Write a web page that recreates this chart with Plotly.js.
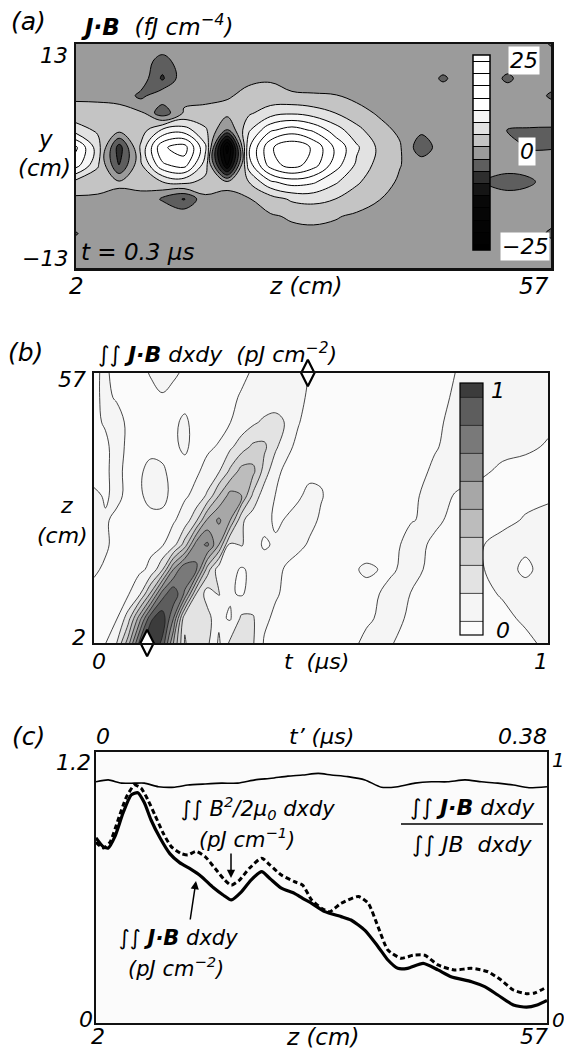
<!DOCTYPE html>
<html><head><meta charset="utf-8">
<script src="https://cdn.plot.ly/plotly-3.0.1.min.js"></script>
<style>html,body{margin:0;padding:0;background:#fff;}#chart{width:564px;height:1051px;}</style>
</head><body><div id="chart"></div>
<script>
// ================= DATA =================
// Panel (a): J·B at t = 0.3 us, grid z (cm) x y (cm), values fJ cm^-4
const aZ = [2,4.5,7,9.5,12,14.5,17,19.5,22,24.5,27,29.5,32,34.5,37,39.5,42,44.5,47,49.5,52,54.5,57];
const aY = [-13,-11,-9,-7,-5,-3,-1,1,3,5,7,9,11,13];
const aJB = [
 [0.4,0.2,0.5,0.3,0.1,0.4,0.6,0.3,0.2,0.5,0.4,0.2,0.3,0.5,0.4,0.1,0.3,0.5,0.2,0.4,0.3,0.5,0.6],
 [0.3,0.5,0.2,0.4,0.6,0.3,0.2,0.5,0.4,0.3,0.6,0.5,0.3,0.2,0.4,0.6,0.3,0.2,0.5,0.3,0.4,0.2,0.3],
 [-1.7,0.4,0.3,0.5,0.2,0.4,0.3,0.6,0.5,0.7,0.9,1.0,0.8,0.6,0.5,0.3,0.4,0.2,0.3,0.5,0.4,0.6,-2.2],
 [0.5,0.4,0.3,0.6,0.8,0.9,0.7,0.6,0.9,1.2,1.8,2.0,1.7,1.1,0.7,0.4,0.3,0.4,0.2,0.3,0.5,0.3,0.2],
 [1.0,1.1,1.0,0.6,-1.8,-4.8,0.8,1.2,1.3,3.0,5.0,5.5,4.5,2.8,1.6,0.8,0.4,0.3,0.5,0.3,0.2,0.4,0.3],
 [3.5,2.5,1.8,2.5,4.5,5.5,3.5,1.8,4.5,10,12,11,8,5,2.5,1.2,0.5,0.4,0.6,-1.8,-3.2,-2.2,0.3],
 [12,5,-5,4,13,15,6,-14,9,18,21,18,12,7,3.5,1.6,0.2,0.3,0.5,0.2,0.3,0.4,0.6],
 [14,6,-6,5,16,18,8,-18,10,19,22,19,13,8,4,1.8,-3.5,0.4,0.3,0.5,0.2,-1.8,-1.8],
 [6,4,2.5,3,8,9,5,-2,7,13,15,13,9,5.5,2.5,1.0,-0.8,0.3,0.5,0.4,-1.6,-1.8,-1.9],
 [2.5,2.5,2.2,2.0,-3.5,1.8,2.0,2.5,4,6,7,6,4.5,2.5,1.2,0.6,0.4,0.5,0.3,0.2,0.5,0.3,0.4],
 [1.0,0.9,0.8,-2.3,0.6,0.8,1.0,1.2,2.2,2.5,1.8,1.7,1.6,0.8,0.5,0.4,0.3,0.5,0.4,0.3,0.6,0.4,-2.0],
 [0.5,0.3,0.6,0.4,-5.0,0.5,0.3,0.4,1.0,1.2,0.6,0.4,0.5,0.3,0.4,0.6,0.5,-2.0,0.3,0.4,-2.2,0.5,0.3],
 [0.3,0.5,0.4,0.2,-2.8,0.3,0.5,0.4,0.3,0.6,0.4,0.3,0.5,0.4,0.2,0.3,0.5,0.4,0.3,0.5,0.4,0.3,0.5],
 [0.5,0.3,0.2,0.4,0.6,0.3,0.5,0.4,0.2,0.3,0.5,0.4,0.2,0.3,0.5,0.6,0.4,0.3,0.2,0.4,0.3,0.5,-1.8]
];
const aXTickVals = [2,57], aXTickText = ['2','57'];
const aYTickVals = [13,-13], aYTickText = ['13','\u221213'];
const aCbText = ['25','0','\u221225'];

// Panel (b): ∫∫ J·B dxdy (pJ cm^-2), grid t (us) x z (cm)
const bT = [0,0.025,0.05,0.075,0.1,0.125,0.15,0.175,0.2,0.225,0.25,0.275,0.3,0.325,0.35,0.375,0.4,0.425,0.45,0.475,0.5,0.525,0.55,0.6,0.65,0.7,0.75,0.8,0.85,0.9,0.95,1.0];
const bZ = [2,7,12,17,22,27,32,37,42,47,52,57];
const bJB = [
 [0.08,0.095,0.2,0.45,0.82,1.0,0.88,0.5,0.19,0.28,0.22,0.085,0.22,0.28,0.21,0.09,0.07,0.06,0.06,0.06,0.06,0.065,0.07,0.115,0.105,0.08,0.07,0.07,0.07,0.075,0.085,0.115],
 [0.09,0.08,0.095,0.25,0.55,0.88,0.97,0.7,0.22,0.27,0.24,0.12,0.09,0.22,0.21,0.12,0.08,0.07,0.06,0.06,0.07,0.08,0.07,0.09,0.12,0.09,0.07,0.07,0.075,0.085,0.11,0.12],
 [0.08,0.07,0.08,0.09,0.18,0.42,0.75,0.88,0.68,0.3,0.15,0.21,0.11,0.09,0.14,0.13,0.11,0.08,0.06,0.06,0.07,0.08,0.08,0.08,0.115,0.098,0.08,0.075,0.085,0.105,0.12,0.11],
 [0.11,0.09,0.08,0.07,0.08,0.12,0.28,0.6,0.8,0.72,0.35,0.14,0.13,0.09,0.12,0.14,0.12,0.09,0.06,0.06,0.07,0.08,0.08,0.11,0.09,0.12,0.08,0.08,0.095,0.12,0.09,0.12],
 [0.12,0.11,0.08,0.08,0.08,0.08,0.09,0.16,0.35,0.65,0.72,0.5,0.17,0.21,0.13,0.09,0.11,0.13,0.12,0.09,0.07,0.07,0.08,0.07,0.08,0.12,0.09,0.075,0.095,0.12,0.11,0.12],
 [0.11,0.105,0.09,0.08,0.08,0.08,0.08,0.09,0.14,0.28,0.52,0.62,0.5,0.22,0.14,0.12,0.09,0.105,0.13,0.12,0.09,0.07,0.07,0.07,0.075,0.098,0.11,0.085,0.08,0.085,0.105,0.12],
 [0.11,0.095,0.11,0.09,0.09,0.12,0.12,0.08,0.09,0.12,0.22,0.4,0.54,0.5,0.28,0.14,0.098,0.08,0.09,0.12,0.105,0.08,0.07,0.07,0.07,0.09,0.12,0.095,0.08,0.08,0.085,0.09],
 [0.08,0.095,0.11,0.09,0.09,0.12,0.11,0.08,0.08,0.09,0.12,0.19,0.32,0.44,0.43,0.26,0.12,0.08,0.08,0.08,0.09,0.08,0.07,0.07,0.07,0.075,0.11,0.12,0.11,0.09,0.08,0.085],
 [0.08,0.09,0.12,0.09,0.08,0.08,0.08,0.09,0.11,0.08,0.09,0.105,0.18,0.25,0.32,0.32,0.22,0.12,0.08,0.07,0.07,0.07,0.07,0.07,0.07,0.07,0.095,0.12,0.12,0.115,0.11,0.095],
 [0.09,0.105,0.12,0.09,0.08,0.08,0.08,0.09,0.11,0.08,0.08,0.08,0.098,0.14,0.18,0.22,0.23,0.19,0.105,0.07,0.07,0.07,0.07,0.07,0.07,0.07,0.09,0.115,0.12,0.12,0.115,0.11],
 [0.09,0.11,0.095,0.09,0.08,0.08,0.095,0.08,0.08,0.08,0.08,0.08,0.09,0.105,0.12,0.13,0.15,0.17,0.13,0.08,0.07,0.07,0.07,0.07,0.07,0.07,0.08,0.11,0.12,0.12,0.12,0.11],
 [0.09,0.11,0.08,0.08,0.08,0.105,0.12,0.11,0.09,0.08,0.08,0.08,0.08,0.09,0.105,0.12,0.13,0.14,0.15,0.095,0.07,0.07,0.07,0.07,0.07,0.07,0.08,0.102,0.12,0.12,0.12,0.11]
];
const bXTickVals = [0,1], bXTickText = ['0','1'];
const bYTickVals = [57,2], bYTickText = ['57','2'];
const bCbText = ['1','0'];
const diamondT = [0.117, 0.471];
const diamondZ = [2, 57];

// Panel (c): curves versus z (cm)
const cZ_JB = [2,2.9,3.5,4.3,5.3,6.3,7.1,7.9,8.7,9.8,11.0,12.2,13.6,14.8,16.3,17.5,18.5,19.7,20.9,22.2,23.2,24.6,26.2,27.2,28.3,29.9,31.9,33.1,34.8,36.4,37.6,38.8,40.0,41.9,43.7,45.3,47.8,49.4,51.0,52.9,54.5,55.8,57];
const cJB = [0.82,0.78,0.775,0.825,0.93,1.01,1.02,0.975,0.90,0.82,0.75,0.71,0.68,0.65,0.60,0.567,0.545,0.58,0.633,0.67,0.64,0.597,0.574,0.552,0.53,0.493,0.471,0.456,0.41,0.338,0.279,0.242,0.242,0.264,0.235,0.205,0.183,0.161,0.124,0.08,0.07,0.08,0.10];
const cZ_B2 = [2,2.9,3.7,4.7,5.7,6.7,7.5,8.3,9.2,10.2,11.2,12.4,13.2,14.2,15.3,16.5,17.7,18.5,19.5,20.7,22.2,23.2,24.6,26.2,27.2,28.3,29.5,30.5,31.9,34.0,35.2,36.4,37.6,39.2,40.7,42.1,43.7,45.7,47.8,49.8,51.4,52.9,54.5,55.5,57];
const cB2 = [0.80,0.775,0.80,0.90,1.0,1.054,1.04,0.99,0.92,0.84,0.78,0.75,0.744,0.76,0.737,0.685,0.633,0.61,0.633,0.685,0.73,0.70,0.655,0.626,0.61,0.545,0.508,0.493,0.53,0.56,0.53,0.426,0.323,0.287,0.30,0.30,0.257,0.235,0.242,0.227,0.19,0.146,0.13,0.133,0.16];
const cZ_R = [2,3.5,5.1,6.7,7.9,9.6,11.6,13.2,15.3,17.3,19.3,21.4,23.4,25.4,27.2,29.1,30.7,32.7,34.8,36.8,38.8,40.9,42.9,44.9,47.0,49.0,51.0,52.9,54.8,57];
const cRatio = [0.89,0.897,0.885,0.885,0.885,0.872,0.87,0.878,0.882,0.885,0.885,0.897,0.903,0.911,0.915,0.921,0.915,0.909,0.897,0.87,0.872,0.885,0.89,0.89,0.897,0.89,0.885,0.878,0.868,0.872];
const cXTickVals = [2,57], cXTickText = ['2','57'];
const cTopTickVals = [0,0.38], cTopTickText = ['0','0.38'];
const cYTickVals = [1.2,0], cYTickText = ['1.2','0'];
const cY2TickVals = [1,0], cY2TickText = ['1','0'];

// ================= LAYOUT HELPERS =================
const W = 564, H = 1051;
const fx = p => p / W;
const fy = p => 1 - p / H;
const FONT = 'DejaVu Sans, Liberation Sans, Arial, sans-serif';
function fnt(s){ return {family: FONT, size: s, color: '#000', style: 'italic'}; }
function A(text, x, y, o){
  o = o || {};
  const a = {text: text, x: fx(x), y: fy(y), xref: 'paper', yref: 'paper', showarrow: false,
    xanchor: o.xa || 'center', yanchor: 'middle', font: fnt(o.s || 22)};
  if (o.bg) { a.bgcolor = o.bg; a.borderpad = 1; }
  return a;
}
function axBase(extra){
  return Object.assign({showgrid:false, zeroline:false, ticks:'', showticklabels:false,
    showline:true, mirror:true, linecolor:'#111', linewidth:2.5, fixedrange:true}, extra);
}

const annotations = [];
// ---- panel a ----
annotations.push(A('(a)', 28, 22, {s:25}));
annotations.push(A('<b>J\u00b7B</b>  (fJ cm<sup>\u22124</sup>)', 79, 25, {xa:'left', s:23}));
annotations.push(A('y', 45, 139, {s:23}));
annotations.push(A('(cm)', 44, 168, {s:23}));
annotations.push(A('z (cm)', 305, 286, {s:23}));
annotations.push(A('t = 0.3 \u00b5s', 79, 252, {xa:'left', s:23}));
aXTickVals.forEach((v,i) => annotations.push({text: aXTickText[i], x: v, xref: 'x', y: fy(286), yref: 'paper',
  xanchor: i === 0 ? 'center' : 'right', yanchor: 'middle', showarrow: false, font: fnt(23)}));
aYTickVals.forEach((v,i) => annotations.push({text: aYTickText[i], x: fx(70), xref: 'paper', y: v, yref: 'y',
  yshift: i === 0 ? -11 : 10, xanchor: 'right', yanchor: 'middle', showarrow: false, font: fnt(22)}));
[[524,60],[527,152],[525,247]].forEach((p,i) => annotations.push(A(aCbText[i], p[0], p[1], {s:22, bg:'#fff'})));
// ---- panel b ----
annotations.push(A('(b)', 25, 352, {s:25}));
annotations.push(A('\u222b\u222b <b>J\u00b7B</b> dxdy  (pJ cm<sup>\u22122</sup>)', 96, 353, {xa:'left', s:22}));
annotations.push(A('z', 66, 505, {s:22}));
annotations.push(A('(cm)', 62, 535, {s:22}));
annotations.push(A('t  (\u00b5s)', 316, 661, {s:22}));
bXTickVals.forEach((v,i) => annotations.push({text: bXTickText[i], x: v, xref: 'x2', xshift: i === 0 ? 5 : -7,
  y: fy(661), yref: 'paper', xanchor: 'center', yanchor: 'middle', showarrow: false, font: fnt(22)}));
bYTickVals.forEach((v,i) => annotations.push({text: bYTickText[i], x: fx(88), xref: 'paper', y: v, yref: 'y2',
  yshift: i === 0 ? -7 : 6, xanchor: 'right', yanchor: 'middle', showarrow: false, font: fnt(22)}));
[[498,390],[503,630]].forEach((p,i) => annotations.push(A(bCbText[i], p[0], p[1], {s:22})));
// ---- panel c ----
annotations.push(A('(c)', 28, 736, {s:25}));
annotations.push(A('t\u2019 (\u00b5s)', 321, 736, {s:22}));
annotations.push(A('z (cm)', 322, 1037, {s:23}));
cXTickVals.forEach((v,i) => annotations.push({text: cXTickText[i], x: v, xref: 'x3', xshift: i === 0 ? 2 : 3,
  y: fy(1036), yref: 'paper', xanchor: i === 0 ? 'center' : 'right', yanchor: 'middle', showarrow: false, font: fnt(22)}));
cTopTickVals.forEach((v,i) => annotations.push({text: cTopTickText[i], x: v, xref: 'x4', xshift: i === 0 ? 7 : 2,
  y: fy(736), yref: 'paper', xanchor: i === 0 ? 'center' : 'right', yanchor: 'middle', showarrow: false, font: fnt(22)}));
cYTickVals.forEach((v,i) => annotations.push({text: cYTickText[i], x: fx(i === 0 ? 93 : 95), xref: 'paper', y: v, yref: 'y3',
  yshift: i === 0 ? -10 : 4, xanchor: 'right', yanchor: 'middle', showarrow: false, font: fnt(22)}));
cY2TickVals.forEach((v,i) => annotations.push({text: cY2TickText[i], x: fx(550), xref: 'paper', y: v, yref: 'y4',
  yshift: i === 0 ? -8 : 3, xanchor: 'left', yanchor: 'middle', showarrow: false, font: fnt(20)}));
annotations.push(A('\u222b\u222b B<sup>2</sup>/2\u00b5<sub>0</sub> dxdy', 258, 808, {s:21}));
annotations.push(A('(pJ cm<sup>\u22121</sup>)', 247, 838, {s:21}));
annotations.push(A('\u222b\u222b <b>J\u00b7B</b> dxdy', 178, 938, {s:21}));
annotations.push(A('(pJ cm<sup>\u22122</sup>)', 176, 967, {s:21}));
annotations.push(A('\u222b\u222b <b>J\u00b7B</b> dxdy', 472, 807, {s:22}));
annotations.push(A('\u222b\u222b JB  dxdy', 472, 844, {s:22}));
// arrows
annotations.push({text:'', x: fx(231), y: fy(878), xref:'paper', yref:'paper', ax: 0, ay: -26,
  showarrow:true, arrowhead:2, arrowsize:1.1, arrowwidth:1.5, arrowcolor:'#000'});
annotations.push({text:'', x: fx(196), y: fy(881), xref:'paper', yref:'paper', ax: -6, ay: 40,
  showarrow:true, arrowhead:2, arrowsize:1.1, arrowwidth:1.5, arrowcolor:'#000'});

const shapes = [
  {type:'line', xref:'paper', yref:'paper', x0: fx(401), x1: fx(543), y0: fy(824), y1: fy(824), line:{color:'#000', width:1.5}}
];

// ================= TRACES =================
const scaleA = [[0,'#000000'],[0.25,'#080808'],[0.3125,'#151515'],[0.375,'#2e2e2e'],[0.4375,'#5e5e5e'],
  [0.5,'#9b9b9b'],[0.5625,'#c4c4c4'],[0.625,'#e2e2e2'],[0.6875,'#f6f6f6'],[0.75,'#ffffff'],[1,'#ffffff']];
const scaleB = [[0,'#fbfbfb'],[0.1111,'#f5f5f5'],[0.2222,'#e3e3e3'],[0.3333,'#d0d0d0'],[0.4444,'#bcbcbc'],
  [0.5556,'#a7a7a7'],[0.6667,'#919191'],[0.7778,'#797979'],[0.8889,'#5d5d5d'],[1,'#3c3c3c']];

const traces = [
  {type:'contour', x: aZ, y: aY, z: aJB, xaxis:'x', yaxis:'y', hoverinfo:'skip',
   autocontour:false, contours:{start:-22.5, end:22.5, size:3, coloring:'fill'},
   colorscale: scaleA, line:{color:'#000', width:1, smoothing:1.1},
   colorbar:{x: fx(473), xanchor:'left', y: fy(152.5), yanchor:'middle', len:195, lenmode:'pixels',
     thickness:17, thicknessmode:'pixels', xpad:0, ypad:0, outlinewidth:1.5, outlinecolor:'#000',
     showticklabels:false, ticks:'', borderwidth:0}},
  {type:'contour', x: bT, y: bZ, z: bJB, xaxis:'x2', yaxis:'y2', hoverinfo:'skip',
   autocontour:false, contours:{start:0.1, end:0.9, size:0.1, coloring:'fill'},
   colorscale: scaleB, line:{color:'#1a1a1a', width:0.8, smoothing:1.1},
   colorbar:{x: fx(460), xanchor:'left', y: fy(509), yanchor:'middle', len:252, lenmode:'pixels',
     thickness:23, thicknessmode:'pixels', xpad:0, ypad:0, outlinewidth:1.2, outlinecolor:'#000',
     showticklabels:false, ticks:'', borderwidth:0}},
  {type:'scatter', mode:'markers', x: diamondT, y: diamondZ, xaxis:'x2', yaxis:'y2', cliponaxis:false, hoverinfo:'skip',
   marker:{symbol:'diamond-tall', size:19, color:'#fff', line:{color:'#000', width:2.2}}},
  {type:'scatter', mode:'lines', x: cZ_R, y: cRatio, xaxis:'x3', yaxis:'y4', hoverinfo:'skip',
   line:{color:'#000', width:1.6, shape:'spline', smoothing:0.6}},
  {type:'scatter', mode:'lines', x: cZ_B2, y: cB2, xaxis:'x3', yaxis:'y3', hoverinfo:'skip',
   line:{color:'#000', width:3, dash:'5px,3px', shape:'spline', smoothing:0.6}},
  {type:'scatter', mode:'lines', x: cZ_JB, y: cJB, xaxis:'x3', yaxis:'y3', hoverinfo:'skip',
   line:{color:'#000', width:3.2, shape:'spline', smoothing:0.6}}
];

const layout = {
  width: W, height: H, margin:{l:0, r:0, t:0, b:0}, showlegend:false,
  paper_bgcolor:'#ffffff', plot_bgcolor:'#fbfbfb', font:{family: FONT, color:'#000'},
  xaxis:  axBase({domain:[fx(76), fx(551)], range:[2,57], anchor:'y'}),
  yaxis:  axBase({domain:[fy(268), fy(44)], range:[-13,13], anchor:'x'}),
  xaxis2: axBase({domain:[fx(94), fx(548)], range:[0,1], anchor:'y2', linewidth:2.2}),
  yaxis2: axBase({domain:[fy(643), fy(373)], range:[2,57], anchor:'x2', linewidth:2.2}),
  xaxis3: axBase({domain:[fx(96), fx(547)], range:[2,57], anchor:'y3', linewidth:2.2}),
  yaxis3: axBase({domain:[fy(1023), fy(752)], range:[0,1.2], anchor:'x3', linewidth:2.2}),
  xaxis4: {overlaying:'x3', side:'top', range:[0,0.38], anchor:'y3', showgrid:false, zeroline:false,
           showticklabels:false, ticks:'', showline:false, fixedrange:true},
  yaxis4: {overlaying:'y3', side:'right', range:[0,1], anchor:'x3', showgrid:false, zeroline:false,
           showticklabels:false, ticks:'', showline:false, fixedrange:true},
  annotations: annotations, shapes: shapes
};

Plotly.newPlot('chart', traces, layout, {staticPlot:true, displayModeBar:false});
</script></body></html>
